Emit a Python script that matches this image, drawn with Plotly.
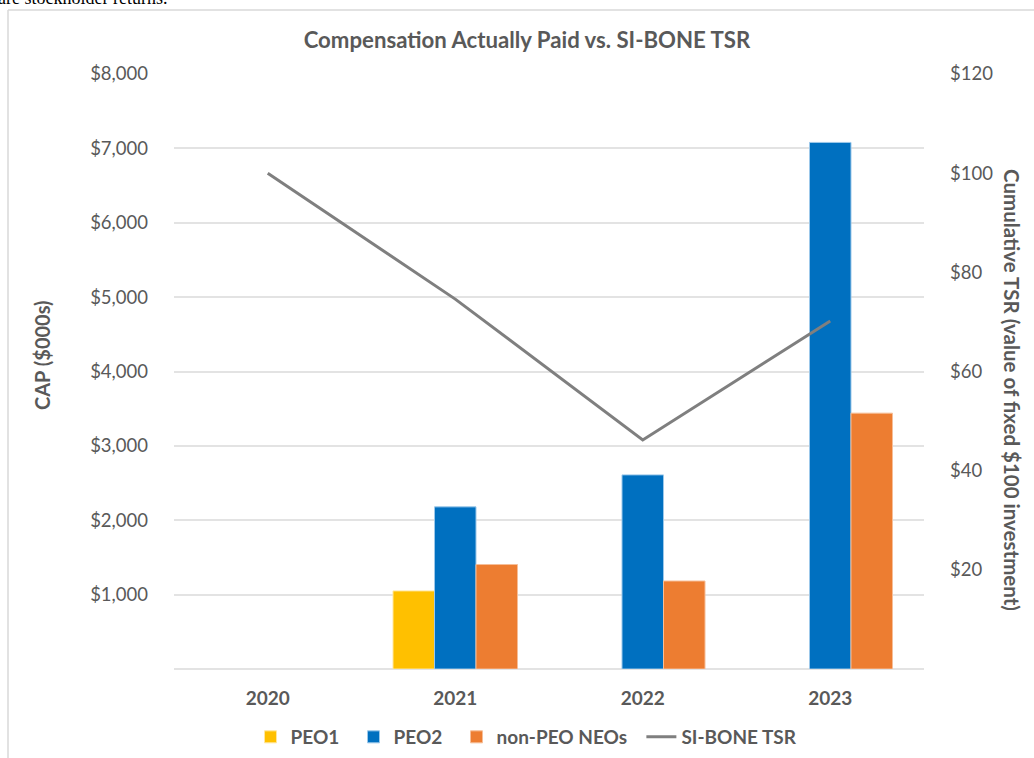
import plotly.graph_objects as go

years = ["2020", "2021", "2022", "2023"]
peo1 = [None, 1050, None, None]
peo2 = [None, 2180, 2610, 7080]
non_peo = [None, 1405, 1183, 3440]
tsr = [100, 74.6, 46.2, 70.2]

left_ticks = [1000, 2000, 3000, 4000, 5000, 6000, 7000, 8000]
left_labels = ["$1,000", "$2,000", "$3,000", "$4,000", "$5,000", "$6,000", "$7,000", "$8,000"]
right_ticks = [20, 40, 60, 80, 100, 120]
right_labels = ["$20", "$40", "$60", "$80", "$100", "$120"]

TXT = "#595959"
FONT = "Lato"
PAD = "\u00a0\u00a0"

fig = go.Figure()
fig.add_trace(go.Bar(x=years, y=peo1, name="PEO1" + PAD, marker=dict(color="#FFC000", line=dict(color="#FFE7A0", width=1))))
fig.add_trace(go.Bar(x=years, y=peo2, name="PEO2" + PAD, marker=dict(color="#0070C0", line=dict(color="#9CC8EA", width=1))))
fig.add_trace(go.Bar(x=years, y=non_peo, name="non-PEO NEOs" + PAD, marker=dict(color="#ED7D31", line=dict(color="#F6BE98", width=1))))
fig.add_trace(go.Scatter(x=years, y=tsr, name="SI-BONE TSR", mode="lines",
                         line=dict(color="#7F7F7F", width=3), yaxis="y2"))

fig.update_layout(
    width=1034, height=758,
    margin=dict(l=174, r=110, t=74, b=89, autoexpand=False),
    paper_bgcolor="white", plot_bgcolor="white",
    barmode="group", bargap=0.336, bargroupgap=0,
    font=dict(family=FONT, color=TXT, size=18),
    title=dict(text="<b>Compensation Actually Paid vs. SI-BONE TSR</b>", x=527 / 1034, xanchor="center",
               y=1 - 40 / 758, yanchor="middle", font=dict(size=22.2, color=TXT, family=FONT)),
    xaxis=dict(type="category", showgrid=False, ticks="", ticklabelstandoff=16,
               tickfont=dict(size=19, color=TXT, family=FONT, weight="bold"),
               showline=False, zeroline=False),
    yaxis=dict(range=[0, 8000], tickvals=left_ticks, ticktext=left_labels,
               showgrid=True, gridcolor="#E3E3E3", gridwidth=1.5, zeroline=True,
               zerolinecolor="#E3E3E3", zerolinewidth=1.5, ticks="", ticklabelstandoff=25,
               tickfont=dict(size=18.5, color=TXT, family=FONT)),
    yaxis2=dict(range=[0, 120], tickvals=right_ticks, ticktext=right_labels, overlaying="y",
                side="right", showgrid=False, zeroline=False, ticks="", ticklabelstandoff=25,
                tickfont=dict(size=18.5, color=TXT, family=FONT)),
    legend=dict(orientation="h", x=0.47, xanchor="center", y=(669 - 737) / 595, yanchor="middle",
                font=dict(size=19, color=TXT, family=FONT, weight="bold"),
                traceorder="normal"),
    showlegend=True,
)

# axis titles
fig.add_annotation(text="<b>CAP ($000s)</b>", xref="paper", yref="paper", x=(42 - 174) / 750,
                   y=(669 - 355) / 595, textangle=-90, showarrow=False,
                   font=dict(size=20, color=TXT, family=FONT), xanchor="center", yanchor="middle")
fig.add_annotation(text="<b>Cumulative TSR (value of fixed $100 investment)</b>", xref="paper", yref="paper",
                   x=(1012 - 174) / 750, y=(669 - 390) / 595, textangle=90, showarrow=False,
                   font=dict(size=20.5, color=TXT, family=FONT), xanchor="center", yanchor="middle")

# clipped text above the chart frame
fig.add_annotation(text="are stockholder returns.", xref="paper", yref="paper",
                   x=(-4 - 174) / 750, y=(669 - 10) / 595, xanchor="left", yanchor="bottom",
                   showarrow=False, font=dict(size=18, color="black", family="Liberation Serif"))

# chart frame (border lines)
fig.add_shape(type="line", xref="paper", yref="paper", x0=(8 - 174) / 750, x1=(1040 - 174) / 750,
              y0=(669 - 10) / 595, y1=(669 - 10) / 595, line=dict(color="#D9D9D9", width=1.5))
fig.add_shape(type="line", xref="paper", yref="paper", x0=(8 - 174) / 750, x1=(8 - 174) / 750,
              y0=(669 - 10) / 595, y1=(669 - 770) / 595, line=dict(color="#D9D9D9", width=1.5))

fig.write_html("out.html", config={"displayModeBar": False},
               post_script="document.body.style.margin='0';document.body.style.overflow='hidden';")
